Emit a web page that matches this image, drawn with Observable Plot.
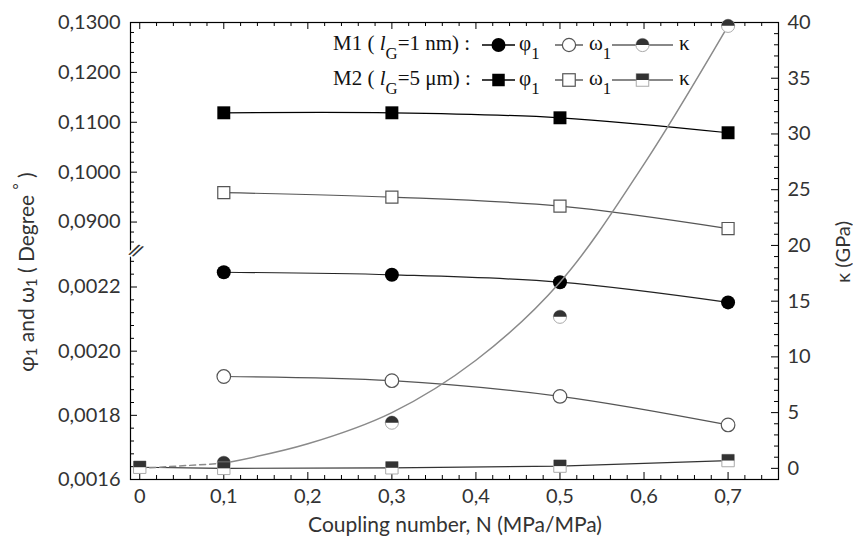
<!DOCTYPE html>
<html><head><meta charset="utf-8">
<script src="https://cdn.jsdelivr.net/npm/d3@7"></script>
<script src="https://cdn.jsdelivr.net/npm/@observablehq/plot@0.6"></script>
<style>
body{margin:0;background:#fff;}
#wrap{position:relative;width:853px;height:542px;overflow:hidden;font-family:Lato,sans-serif;color:#333;background:#fff;}
#wrap svg{position:absolute;left:0;top:0;}
.t{position:absolute;white-space:nowrap;line-height:1;}
.t sub{font-size:0.7em;vertical-align:-0.35em;}
.v{writing-mode:vertical-rl;transform:translate(-50%,-50%) rotate(180deg);}
.leg{position:absolute;font-family:"Liberation Serif",serif;font-size:21px;color:#111;white-space:nowrap;line-height:1;}
.leg sub{font-size:0.8em;vertical-align:-0.55em;}
.mk{position:absolute;overflow:visible;}
</style></head><body><div id="wrap"></div>
<script>
// ---------- data ----------
const N = [0.1, 0.3, 0.5, 0.7];
const m1Phi   = [0.002246, 0.002238, 0.002215, 0.002152];
const m1Omega = [0.001921, 0.001908, 0.001859, 0.001770];
const m2Phi   = [0.1119, 0.1119, 0.1109, 0.1079];
const m2Omega = [0.0959, 0.0950, 0.0932, 0.0887];
const m1KappaN = [0.1, 0.3, 0.5, 0.7];
const m1Kappa  = [0.5, 4.1, 13.6, 39.7];
const m1FitN = [0, 0.1, 0.2, 0.3, 0.4, 0.5, 0.6, 0.7];
const m1Fit  = [0, 0.45, 2.2, 5.0, 9.7, 16.7, 27.3, 39.7];
const m2KappaN = [0, 0.1, 0.3, 0.5, 0.7];
const m2Kappa  = [0.1, 0.0, 0.05, 0.2, 0.7];
const xTicks = [0, 0.1, 0.2, 0.3, 0.4, 0.5, 0.6, 0.7];
const yTicksUpper = [0.09, 0.10, 0.11, 0.12, 0.13];
const yTicksLower = [0.0016, 0.0018, 0.0020, 0.0022];
const kTicks = [0, 5, 10, 15, 20, 25, 30, 35, 40];

// ---------- layout ----------
const W = 853, H = 542, mL = 130, mR = 75, mT = 22, mB = 63;
const innerW = W - mL - mR, innerH = H - mT - mB;
const breakLow = 0.00232, breakHigh = 0.0847, breakPx = 248;
const xScale = {domain: [-0.011, 0.76], range: [mL, W - mR], axis: null};

const upperMinor = d3.range(43, 66).filter(i => i % 5 !== 0).map(i => i * 0.002);
const lowerMinor = d3.range(41, 58).filter(i => i % 5 !== 0).map(i => i * 0.00004);
const xMinor = d3.range(1, 38).filter(i => i % 5 !== 0).map(i => i * 0.02);
const kMinor = d3.range(1, 40).filter(i => i % 5 !== 0);

const zip = (xs, ys) => xs.map((n, i) => ({N: n, v: ys[i]}));
const dM1Phi = zip(N, m1Phi), dM1Om = zip(N, m1Omega), dM2Phi = zip(N, m2Phi), dM2Om = zip(N, m2Omega);
const dM1K = zip(m1KappaN, m1Kappa), dFit = zip(m1FitN, m1Fit), dM2K = zip(m2KappaN, m2Kappa);

const halfCircle = {draw(ctx, size) { const r = Math.sqrt(size / Math.PI); ctx.moveTo(-r, 0); ctx.arc(0, 0, r, Math.PI, 0); ctx.closePath(); }};
const halfSquare = {draw(ctx, size) { const w = Math.sqrt(size); ctx.rect(-w / 2, -w / 2, w, w / 2); }};

const fmt4 = d => d.toFixed(4).replace(".", ",");
const fmtX = d => d === 0 ? "0" : d.toFixed(1).replace(".", ",");
const style = {fontFamily: "Lato, sans-serif", fontSize: "20px", color: "#333", background: "transparent", overflow: "visible"};

// base: frame + x axis
const base = Plot.plot({
  width: W, height: H, marginLeft: mL, marginRight: mR, marginTop: mT, marginBottom: mB,
  x: xScale, style,
  marks: [
    Plot.tickX(xTicks, {x: d => d, insetTop: innerH - 7, stroke: "#000"}),
    Plot.tickX(xMinor, {x: d => d, insetTop: innerH - 4, stroke: "#000"}),
    Plot.tickX(xTicks, {x: d => d, insetBottom: innerH - 7, stroke: "#000"}),
    Plot.tickX(xMinor, {x: d => d, insetBottom: innerH - 4, stroke: "#000"}),
    Plot.axisX(xTicks, {tickSize: 0, tickPadding: 9, tickFormat: fmtX, label: null}),
    Plot.frame({stroke: "#000", strokeWidth: 1.2})
  ]
});

// upper panel (M2, phi & omega)
const upper = Plot.plot({
  width: W, height: H, marginLeft: mL, marginRight: mR, marginTop: mT, marginBottom: H - breakPx,
  x: xScale, y: {domain: [breakHigh, 0.13]}, style,
  marks: [
    Plot.tickY(yTicksUpper, {y: d => d, insetRight: innerW - 7, stroke: "#000"}),
    Plot.tickY(upperMinor, {y: d => d, insetRight: innerW - 4, stroke: "#000"}),
    Plot.axisY(yTicksUpper, {tickSize: 0, tickPadding: 10, tickFormat: fmt4, label: null}),
    Plot.line(dM2Phi, {x: "N", y: "v", stroke: "#000", strokeWidth: 1.2, curve: "catmull-rom"}),
    Plot.line(dM2Om, {x: "N", y: "v", stroke: "#555", strokeWidth: 1.2, curve: "catmull-rom"}),
    Plot.dot(dM2Phi, {x: "N", y: "v", symbol: "square", r: 7.3, fill: "#000"}),
    Plot.dot(dM2Om, {x: "N", y: "v", symbol: "square", r: 6.8, fill: "#fff", stroke: "#555", strokeWidth: 1.2})
  ]
});

// lower panel (M1, phi & omega)
const lower = Plot.plot({
  width: W, height: H, marginLeft: mL, marginRight: mR, marginTop: breakPx, marginBottom: mB,
  x: xScale, y: {domain: [0.0016, breakLow]}, style,
  marks: [
    Plot.tickY(yTicksLower, {y: d => d, insetRight: innerW - 7, stroke: "#000"}),
    Plot.tickY(lowerMinor, {y: d => d, insetRight: innerW - 4, stroke: "#000"}),
    Plot.axisY(yTicksLower, {tickSize: 0, tickPadding: 10, tickFormat: fmt4, label: null}),
    Plot.line(dM1Phi, {x: "N", y: "v", stroke: "#222", strokeWidth: 1.2, curve: "catmull-rom"}),
    Plot.line(dM1Om, {x: "N", y: "v", stroke: "#555", strokeWidth: 1.2, curve: "catmull-rom"}),
    Plot.dot(dM1Phi, {x: "N", y: "v", r: 7, fill: "#000"}),
    Plot.dot(dM1Om, {x: "N", y: "v", r: 6.8, fill: "#fff", stroke: "#555", strokeWidth: 1.2}),
    Plot.text([breakLow], {y: d => d, frameAnchor: "left", text: () => "//", fontSize: 17, fontWeight: "bold", rotate: 25, fill: "#333", stroke: "#fff", strokeWidth: 3, paintOrder: "stroke"})
  ]
});

// kappa overlay (right axis)
const kplot = Plot.plot({
  width: W, height: H, marginLeft: mL, marginRight: mR, marginTop: mT, marginBottom: mB,
  x: xScale, y: {domain: [-1, 40]}, style,
  marks: [
    Plot.tickY(kTicks, {y: d => d, insetLeft: innerW - 7, stroke: "#000"}),
    Plot.tickY(kMinor, {y: d => d, insetLeft: innerW - 4, stroke: "#000"}),
    Plot.axisY(kTicks, {anchor: "right", tickSize: 0, tickPadding: 9, label: null}),
    Plot.line(dM2K, {x: "N", y: "v", stroke: "#333", strokeWidth: 1.2}),
    Plot.line(dFit.filter(d => d.N <= 0.1), {x: "N", y: "v", stroke: "#8a8a8a", strokeWidth: 1.5, strokeDasharray: "6,4"}),
    Plot.line(dFit.filter(d => d.N >= 0.1), {x: "N", y: "v", stroke: "#8a8a8a", strokeWidth: 1.5, curve: "catmull-rom"}),
    Plot.dot(dM1K, {x: "N", y: "v", r: 6.6, fill: "#fff", stroke: "#aaa", strokeWidth: 1}),
    Plot.dot(dM1K, {x: "N", y: "v", r: 6.6, symbol: halfCircle, fill: "#333"}),
    Plot.dot(dM2K, {x: "N", y: "v", symbol: "square", r: 7, fill: "#fff", stroke: "#aaa", strokeWidth: 1}),
    Plot.dot(dM2K, {x: "N", y: "v", symbol: halfSquare, r: 7, fill: "#333"})
  ]
});

const wrap = document.getElementById("wrap");
wrap.append(base, upper, lower, kplot);

// ---------- titles ----------
function addText(html, cx, cy, size, vertical) {
  const d = document.createElement("div");
  d.className = vertical ? "t v" : "t";
  d.innerHTML = html;
  d.style.left = cx + "px"; d.style.top = cy + "px"; d.style.fontSize = size + "px";
  if (!vertical) d.style.transform = "translate(-50%,-50%)";
  wrap.append(d);
}
addText("Coupling number, N (MPa/MPa)", 455, 523, 21, false);
addText("φ<sub>1</sub> and ω<sub>1</sub> ( Degree <sup style='font-size:0.7em'>°</sup> )", 25, 272, 21, true);
addText("κ (GPa)", 842, 252, 20, true);

// ---------- legend ----------
const legendRows = [
  {label: "M1 ( <i>l</i><sub>G</sub>=1 nm) :", shape: "circle", cy: 45},
  {label: "M2 ( <i>l</i><sub>G</sub>=5 μm) :", shape: "square", cy: 80}
];
const legendItems = [
  {sym: "φ<sub>1</sub>", fill: "filled", x0: 482, x1: 515, tx: 519, line: "#000"},
  {sym: "ω<sub>1</sub>", fill: "open", x0: 555, x1: 583, tx: 589, line: "#444"},
  {sym: "κ", fill: "half", x0: 612, x1: 673, tx: 679, line: "#888"}
];
function markerSVG(shape, fill, w) {
  const c = w / 2, r = 6.6;
  if (shape === "circle") {
    if (fill === "filled") return `<circle cx="${c}" cy="12" r="7" fill="#000"/>`;
    if (fill === "open") return `<circle cx="${c}" cy="12" r="${r}" fill="#fff" stroke="#555" stroke-width="1.2"/>`;
    return `<circle cx="${c}" cy="12" r="${r}" fill="#fff" stroke="#aaa"/><path d="M${c - r},12 A${r},${r} 0 0 1 ${c + r},12 Z" fill="#333"/>`;
  }
  const s = 12.5;
  if (fill === "filled") return `<rect x="${c - s / 2}" y="${12 - s / 2}" width="${s}" height="${s}" fill="#000"/>`;
  if (fill === "open") return `<rect x="${c - s / 2}" y="${12 - s / 2}" width="${s}" height="${s}" fill="#fff" stroke="#555" stroke-width="1.2"/>`;
  return `<rect x="${c - s / 2}" y="${12 - s / 2}" width="${s}" height="${s}" fill="#fff" stroke="#aaa"/><rect x="${c - s / 2}" y="${12 - s / 2}" width="${s}" height="${s / 2}" fill="#333"/>`;
}
for (const row of legendRows) {
  const t = document.createElement("div");
  t.className = "leg"; t.innerHTML = row.label;
  t.style.left = "333px"; t.style.top = (row.cy - 12) + "px";
  wrap.append(t);
  for (const it of legendItems) {
    const w = it.x1 - it.x0;
    const svg = document.createElementNS("http://www.w3.org/2000/svg", "svg");
    svg.setAttribute("class", "mk"); svg.setAttribute("width", w); svg.setAttribute("height", 24);
    svg.style.left = it.x0 + "px"; svg.style.top = (row.cy - 12) + "px";
    svg.innerHTML = `<line x1="0" x2="${w}" y1="12" y2="12" stroke="${it.line}" stroke-width="${it.fill === 'half' ? 2 : 1.3}"/>` + markerSVG(row.shape, it.fill, w);
    wrap.append(svg);
    const s = document.createElement("div");
    s.className = "leg"; s.innerHTML = it.sym;
    s.style.left = it.tx + "px"; s.style.top = (row.cy - 12) + "px";
    wrap.append(s);
  }
}
</script></body></html>
